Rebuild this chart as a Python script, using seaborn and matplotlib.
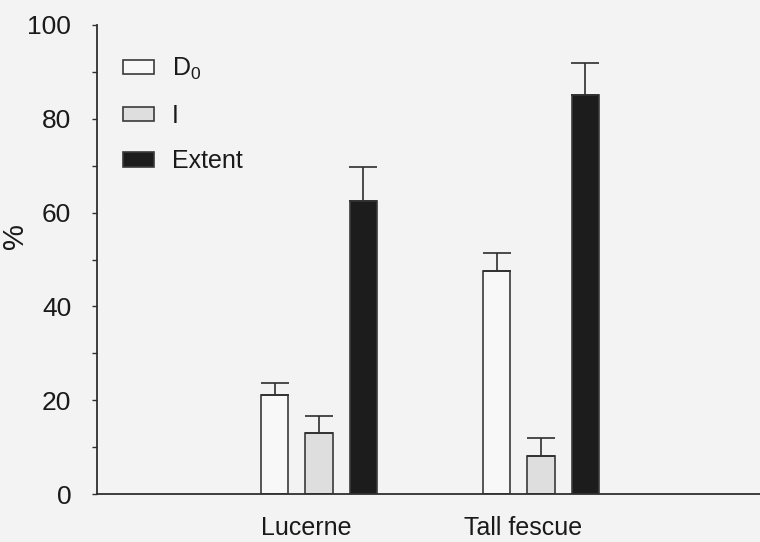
import numpy as np
import pandas as pd
import matplotlib.pyplot as plt
import seaborn as sns
from matplotlib.ticker import MultipleLocator

# data
forages = ["Lucerne", "Tall fescue"]
components = ["D$_\\mathregular{0}$", "I", "Extent"]
d0 = [21.1, 47.6]
indig = [12.9, 8.2]
extent = [62.5, 85.1]
d0_err = [2.5, 3.8]
indig_err = [3.7, 3.7]
extent_err = [7.2, 6.7]
yticks = [0, 20, 40, 60, 80, 100]

df = pd.DataFrame({
    "forage": forages * 3,
    "component": np.repeat(components, 2),
    "value": d0 + indig + extent,
})
errs = [d0_err, indig_err, extent_err]

sns.set_style("ticks")
plt.rcParams["font.family"] = ["Liberation Sans", "DejaVu Sans"]
bg = "#f3f3f3"
ink = "#2e2e2e"

fig = plt.figure(figsize=(7.6, 5.42), dpi=100, facecolor=bg)
# axes run a little past the right edge, as in the cropped scan
ax = fig.add_axes([97 / 760, 48 / 542, 666 / 760, 469 / 542])
ax.set_facecolor("none")

pal = {components[0]: "#f8f8f8", components[1]: "#dedede", components[2]: "#1c1c1c"}
sns.barplot(data=df, x="forage", y="value", hue="component", order=forages,
            hue_order=components, palette=pal, width=0.6, gap=0.39,
            edgecolor="#3a3a3a", linewidth=1.2, errorbar=None, ax=ax)

# one-sided error bars
for cont, e in zip(ax.containers, errs):
    xs = [p.get_x() + p.get_width() / 2 for p in cont]
    hs = [p.get_height() for p in cont]
    ax.errorbar(xs, hs, yerr=[np.zeros(len(e)), e], fmt="none", ecolor=ink,
                elinewidth=1.2, capsize=10, capthick=1.2, zorder=3)

ax.set_xlim(-1.0, 2.0)
ax.set_ylim(0, 100)
ax.set_yticks(yticks)
ax.yaxis.set_minor_locator(MultipleLocator(10))
ax.tick_params(axis="y", which="both", direction="out", length=3.6, width=1,
               color=ink, labelsize=19, pad=15, labelcolor="#1a1a1a")
ax.set_xticks([-0.056, 0.917])
ax.set_xticklabels(forages)
ax.tick_params(axis="x", length=0, labelsize=18, pad=16, labelcolor="#1a1a1a")
ax.set_xlabel("")
ax.set_ylabel("%", fontsize=21, color="#1a1a1a")
ax.yaxis.set_label_coords(-0.102, 0.55)

sns.despine(ax=ax)
for s in ["left", "bottom"]:
    ax.spines[s].set_color(ink)
    ax.spines[s].set_linewidth(1.3)

ax.legend(loc="upper left", bbox_to_anchor=(123 / 760, 1 - 56 / 542),
          bbox_transform=fig.transFigure, frameon=False, fontsize=18,
          handlelength=1.24, handleheight=0.52, handletextpad=0.72,
          labelspacing=0.86, borderpad=0, borderaxespad=0, labelcolor="#1a1a1a")

fig.savefig("out.png", dpi=100, facecolor=bg)
